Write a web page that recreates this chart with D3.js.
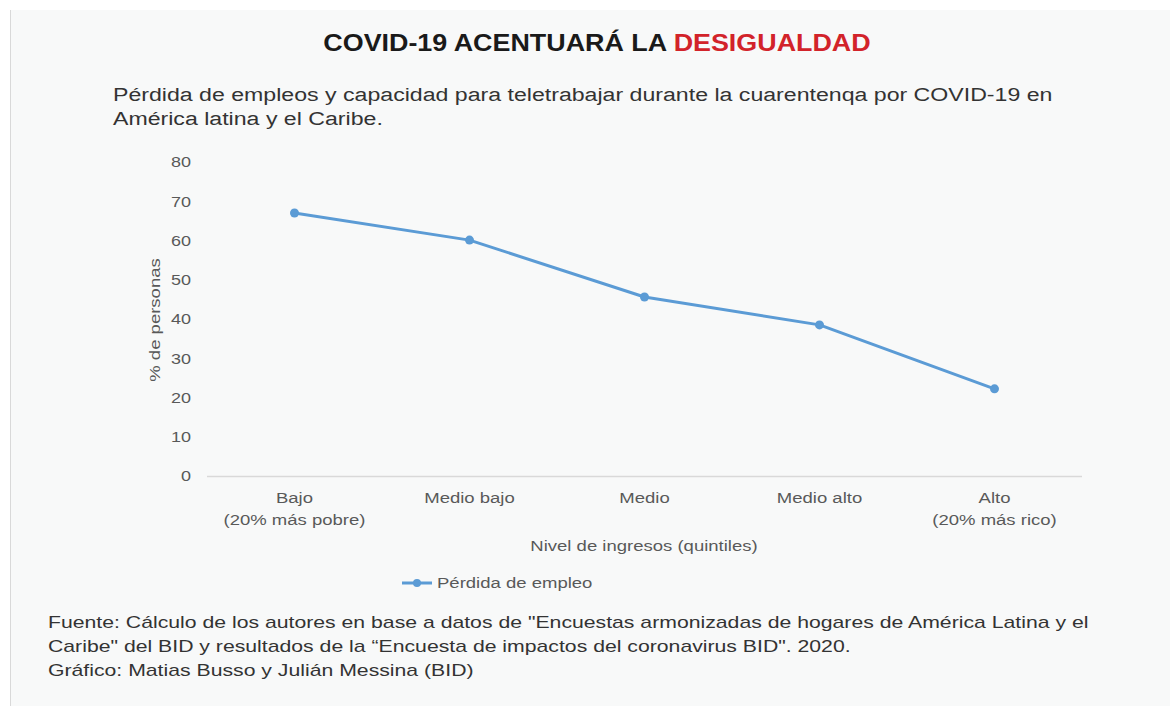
<!DOCTYPE html>
<html><head><meta charset="utf-8">
<script src="https://cdn.jsdelivr.net/npm/d3@7"></script>
<style>body{margin:0;background:#fff;} svg{display:block;font-family:"Liberation Sans",Arial,sans-serif;}</style>
</head><body>
<svg id="c" width="1170" height="706"></svg>
<script>
const categories = [["Bajo","(20% más pobre)"],["Medio bajo"],["Medio"],["Medio alto"],["Alto","(20% más rico)"]];
const seriesName = "Pérdida de empleo";
const values = [67.0, 60.1, 45.6, 38.5, 22.2];
const yTicks = [0,10,20,30,40,50,60,70,80];

const SX = 1.235; // horizontal text stretch of the reference
const svg = d3.select("#c");
svg.append("rect").attr("x",10).attr("y",10).attr("width",1160).attr("height",696).attr("fill","#f8f9f9");
svg.append("line").attr("x1",10.5).attr("x2",10.5).attr("y1",10).attr("y2",706).attr("stroke","#d9d9d9");

function txt(x,y,size,fill,anchor,sx,rot){
  return svg.append("text")
    .attr("transform",`translate(${x},${y})${rot?` rotate(${rot})`:""} scale(${sx||SX},1)`)
    .attr("text-anchor",anchor||"start").attr("font-size",size).attr("fill",fill);
}

const title = txt(597,51,24,"#1a1a1a","middle",1.12).attr("font-weight","bold");
title.append("tspan").text("COVID-19 ACENTUARÁ LA ");
title.append("tspan").attr("fill","#d2232a").text("DESIGUALDAD");

const sub = ["Pérdida de empleos y capacidad para teletrabajar durante la cuarentenqa por COVID-19 en","América latina y el Caribe."];
sub.forEach((s,i)=>txt(113,101+i*24,19,"#333","start",1.217).text(s));

const x = d3.scalePoint().domain(categories.map((d,i)=>i)).range([294.5,994.5]);
const y = d3.scaleLinear().domain([0,80]).range([476,162]);

const gy = svg.append("g").attr("transform","translate(191,0)")
  .call(d3.axisLeft(y).tickValues(yTicks).tickSize(0).tickPadding(0));
gy.select(".domain").remove();
gy.selectAll("text").attr("font-size",15).attr("fill","#595959").attr("font-family","Liberation Sans, Arial, sans-serif")
  .attr("transform",`scale(1.2,1)`);

svg.append("line").attr("x1",207).attr("x2",1082).attr("y1",y(0)+0.5).attr("y2",y(0)+0.5).attr("stroke","#d9d9d9").attr("stroke-width",1.5);

categories.forEach((c,i)=>{
  c.forEach((t,j)=>txt(x(i),503+j*22,15,"#595959","middle").text(t));
});

txt(644,551,15,"#595959","middle").text("Nivel de ingresos (quintiles)");
txt(160,320,15,"#595959","middle",SX,-90).text("% de personas");

const line = d3.line().x((d,i)=>x(i)).y(d=>y(d));
svg.append("path").datum(values).attr("d",line).attr("fill","none").attr("stroke","#5b9bd5").attr("stroke-width",3).attr("stroke-linejoin","round");
svg.selectAll("circle.pt").data(values).enter().append("circle").attr("class","pt")
  .attr("cx",(d,i)=>x(i)).attr("cy",d=>y(d)).attr("r",4.5).attr("fill","#5b9bd5");

svg.append("line").attr("x1",402).attr("x2",432).attr("y1",583).attr("y2",583).attr("stroke","#5b9bd5").attr("stroke-width",3);
svg.append("circle").attr("cx",417).attr("cy",583).attr("r",4).attr("fill","#5b9bd5");
txt(437,588,15,"#595959").text(seriesName);

const src = ["Fuente: Cálculo de los autores en base a datos de \"Encuestas armonizadas de hogares de América Latina y el",
 "Caribe\" del BID y resultados de la “Encuesta de impactos del coronavirus BID\". 2020.",
 "Gráfico: Matias Busso y Julián Messina (BID)"];
src.forEach((s,i)=>txt(48,628+i*24,17,"#333","start",1.248).text(s));
</script>
</body></html>
